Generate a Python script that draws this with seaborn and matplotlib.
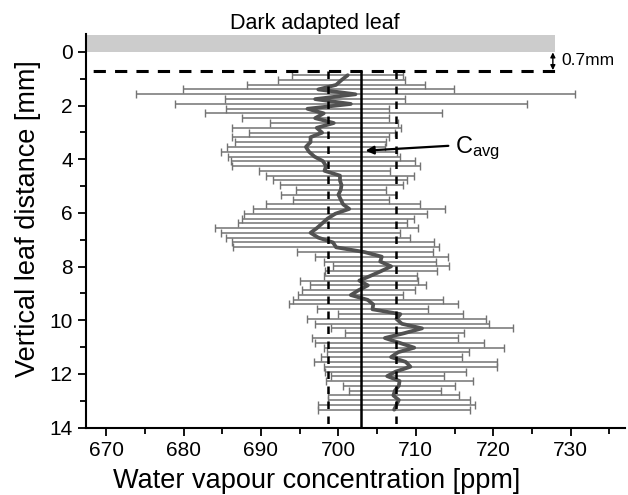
import seaborn as sns
import pandas as pd
import matplotlib
matplotlib.use('Agg')
import matplotlib.pyplot as plt
from matplotlib.ticker import MultipleLocator

sns.set_style('ticks')
plt.rcParams['font.family'] = ['Liberation Sans', 'DejaVu Sans']
plt.rcParams['mathtext.fontset'] = 'custom'
plt.rcParams['mathtext.rm'] = 'Liberation Sans'
plt.rcParams['mathtext.it'] = 'Liberation Sans'
plt.rcParams['text.color'] = 'black'
plt.rcParams['axes.labelcolor'] = 'black'
plt.rcParams['xtick.color'] = 'black'
plt.rcParams['ytick.color'] = 'black'

# depth below the leaf surface [mm]
depth = [0.87, 1.05, 1.23, 1.40, 1.58, 1.76, 1.94, 2.12, 2.29, 2.47,
         2.65, 2.83, 3.01, 3.18, 3.36, 3.54, 3.72, 3.90, 4.07, 4.25,
         4.43, 4.61, 4.79, 4.96, 5.14, 5.32, 5.50, 5.68, 5.85, 6.03,
         6.21, 6.39, 6.57, 6.74, 6.92, 7.10, 7.28, 7.46, 7.63, 7.81,
         7.99, 8.17, 8.35, 8.52, 8.70, 8.88, 9.06, 9.24, 9.41, 9.59,
         9.77, 9.95, 10.13, 10.30, 10.48, 10.66, 10.84, 11.02, 11.19, 11.37,
         11.55, 11.73, 11.91, 12.08, 12.26, 12.44, 12.62, 12.80, 12.97, 13.15,
         13.33]

# mean water vapour concentration [ppm]
conc = [701.2, 700.4, 699.7, 697.4, 702.2, 697.0, 701.6, 696.0, 698.1, 697.0,
        699.4, 697.2, 697.9, 696.4, 696.4, 695.8, 696.2, 696.9, 698.0, 698.4,
        698.2, 700.2, 700.2, 700.4, 700.3, 700.0, 700.3, 700.6, 701.4, 699.6,
        698.6, 697.9, 697.2, 696.4, 697.4, 699.3, 699.7, 703.4, 705.6, 705.4,
        706.8, 705.5, 704.1, 702.7, 703.8, 702.6, 701.6, 703.8, 704.5, 704.4,
        708.0, 707.5, 708.2, 710.8, 708.5, 706.0, 707.9, 709.8, 707.7, 706.8,
        708.7, 709.3, 707.4, 706.3, 707.9, 707.8, 707.3, 707.1, 707.8, 707.5,
        707.2]

# half width of the error bars [ppm]
err = [7.2, 8.2, 11.5, 17.5, 28.4, 11.6, 22.7, 10.5, 15.3, 9.5,
       8.3, 10.9, 9.4, 10.1, 9.8, 10.2, 11.4, 11.1, 11.9, 12.2,
       8.4, 9.6, 8.7, 7.9, 5.8, 7.4, 6.2, 9.9, 12.4, 11.8,
       11.1, 10.9, 13.1, 11.6, 11.9, 13.1, 13.3, 8.8, 8.6, 7.2,
       7.5, 7.2, 6.0, 7.6, 7.5, 7.3, 6.8, 9.7, 10.9, 7.2,
       8.1, 11.5, 11.2, 11.7, 7.7, 9.4, 10.9, 11.6, 9.2, 9.1,
       11.8, 11.2, 9.1, 7.3, 9.5, 7.2, 5.9, 8.5, 9.2, 10.2,
       9.8]

c_avg = 702.9
c_band = [698.6, 707.4]
surface_gap = 0.7

df = pd.DataFrame({'depth': depth, 'conc': conc, 'err': err})

fig = plt.figure(figsize=(6.28, 4.95), dpi=100)
ax = fig.add_axes([0.137, 0.136, 0.858, 0.795])

ax.errorbar(df['conc'], df['depth'], xerr=df['err'], fmt='none',
            ecolor='#737373', elinewidth=1.1, capsize=3, capthick=1.0, zorder=2)
sns.lineplot(data=df, x='conc', y='depth', orient='y', sort=False,
             estimator=None, color='#525252', linewidth=2.7, ax=ax, zorder=4)

# leaf surface and reference lines
ax.fill_between([660, 728], -0.62, 0, color='#cccccc', linewidth=0, zorder=1)
ax.plot([660, 728], [surface_gap, surface_gap], color='black', lw=2.2,
        ls=(0, (4, 3)), zorder=5)
ax.plot([c_avg, c_avg], [surface_gap, 14], color='black', lw=1.8, zorder=5)
for v in c_band:
    ax.plot([v, v], [surface_gap, 14], color='black', lw=1.8,
            ls=(0, (3, 3)), zorder=5)

ax.text(697, -1.05, 'Dark adapted leaf', ha='center', va='center', fontsize=15.5,
        clip_on=False)
ax.annotate('', xy=(727.7, 0.02), xytext=(727.7, 0.68),
            arrowprops=dict(arrowstyle='<|-|>', color='black', lw=1.0,
                            mutation_scale=7, shrinkA=0, shrinkB=0),
            annotation_clip=False)
ax.text(728.8, 0.33, '0.7mm', ha='left', va='center', fontsize=12.5)

ax.annotate('', xy=(703.5, 3.68), xytext=(714.2, 3.5),
            arrowprops=dict(arrowstyle='-|>', color='black', lw=1.6,
                            mutation_scale=12, shrinkA=0, shrinkB=0))
ax.text(715.0, 3.58, r'C$_{\mathrm{avg}}$', ha='left', va='center', fontsize=17)

ax.set_xlim(667.4, 737)
ax.set_ylim(14, -0.66)
ax.xaxis.set_major_locator(MultipleLocator(10))
ax.xaxis.set_minor_locator(MultipleLocator(5))
ax.yaxis.set_major_locator(MultipleLocator(2))
ax.yaxis.set_minor_locator(MultipleLocator(1))
ax.tick_params(which='major', length=6, width=1.3, labelsize=15, direction='out')
ax.tick_params(which='minor', length=4, width=1.3, direction='out')
ax.set_xlabel('Water vapour concentration [ppm]', fontsize=19.5)
ax.set_ylabel('Vertical leaf distance [mm]', fontsize=19.5)
ax.xaxis.set_label_coords(0.4275, -0.102)
ax.yaxis.set_label_coords(-0.084, 0.53)
for s in ['top', 'right']:
    ax.spines[s].set_visible(False)
for s in ['left', 'bottom']:
    ax.spines[s].set_linewidth(1.5)
    ax.spines[s].set_color('black')

fig.savefig('out.png', dpi=100)
